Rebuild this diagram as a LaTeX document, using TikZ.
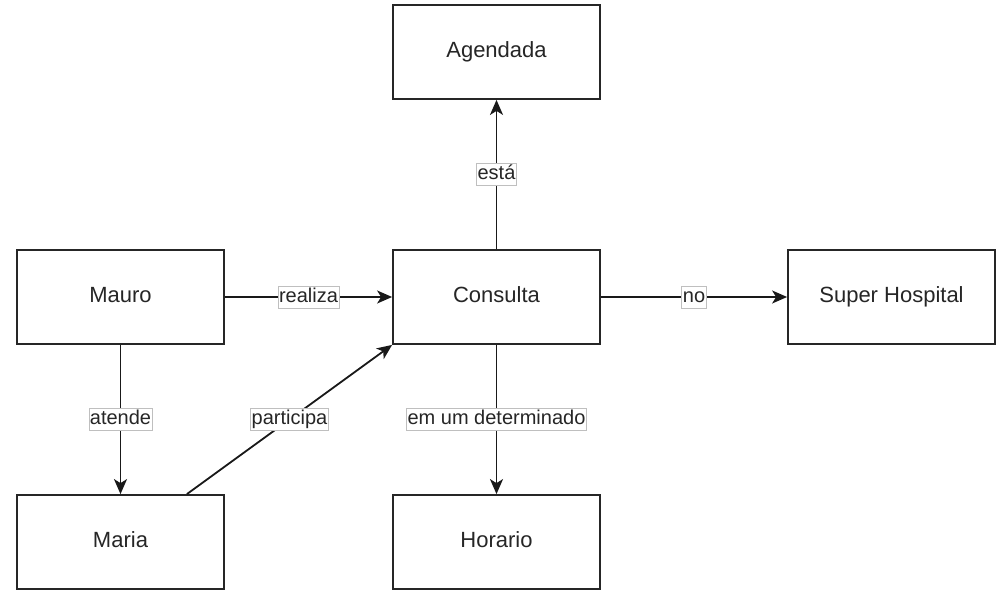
\documentclass[tikz,border=0pt]{standalone}
\usepackage{fontspec}
\setmainfont{Liberation Sans}
\usetikzlibrary{arrows.meta}
\begin{document}
\begin{tikzpicture}[x=1pt,y=-1pt,
  entity/.style={draw=black!85, line width=1.8pt, fill=white,
    minimum width=207pt, minimum height=94pt, inner sep=0pt,
    text height=15.5pt, text depth=4.5pt,
    font=\fontsize{22}{26}\selectfont, text=black!85},
  link/.style={draw=black!90, line width=1.8pt,
    -{Stealth[length=15pt,width=13pt,inset=4pt]}},
  tag/.style={draw=black!25, line width=0.8pt, fill=white, inner xsep=1pt,
    inner ysep=2pt, text height=14pt, text depth=4pt,
    font=\fontsize{20}{24}\selectfont, text=black!85}]
  \useasboundingbox (0,0) rectangle (998,591);
  \fill[white] (0,0) rectangle (998,591);

  % entities
  \node[entity] (mauro)    at (120.5,297) {Mauro};
  \node[entity] (consulta) at (496.5,297) {Consulta};
  \node[entity] (hospital) at (891.5,297) {Super Hospital};
  \node[entity] (agenda)   at (496.5,52)  {Agendada};
  \node[entity] (maria)    at (120.5,542) {Maria};
  \node[entity] (horario)  at (496.5,542) {Horario};

  % relations
  \draw[link] (mauro.east) -- node[tag]{realiza} (consulta.west);
  \draw[link] (consulta.east) -- node[tag]{no} (hospital.west);
  \draw[link] (consulta.north) -- node[tag]{está} (agenda.south);
  \draw[link] (consulta.south) -- node[tag]{em um determinado} (horario.north);
  \draw[link] (mauro.south) -- node[tag]{atende} (maria.north);
  \draw[link] ([xshift=-38pt]maria.north east) -- node[tag]{participa} (consulta.south west);
\end{tikzpicture}
\end{document}
